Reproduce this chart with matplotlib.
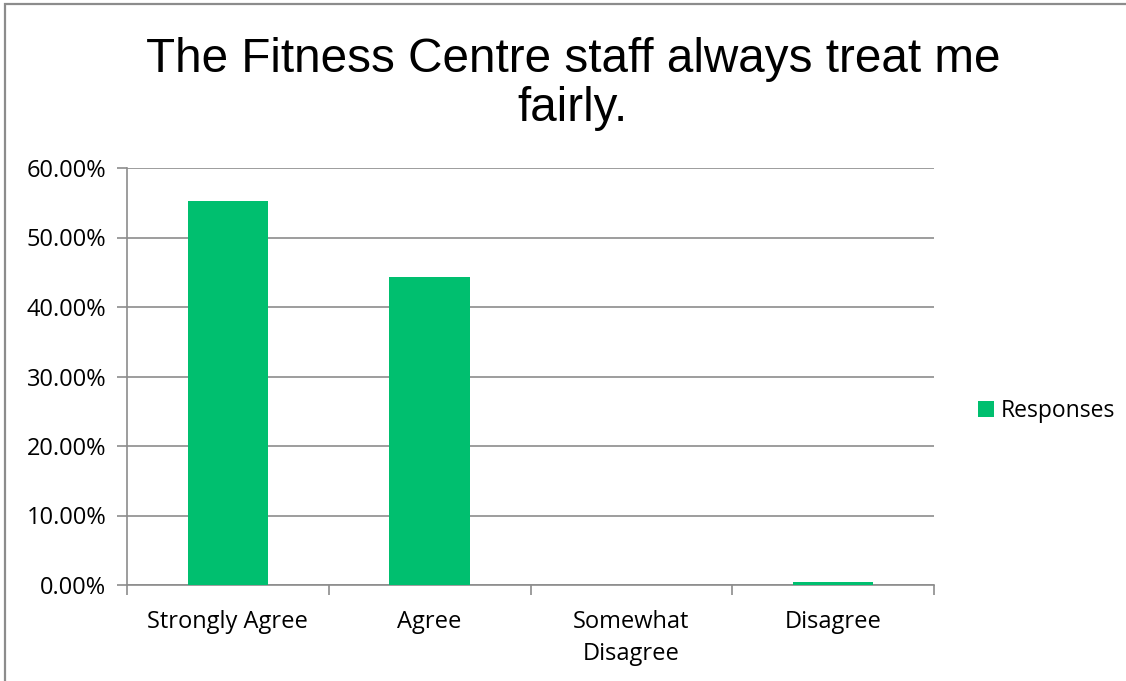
import matplotlib
matplotlib.use("Agg")
import matplotlib.pyplot as plt
from matplotlib.patches import Rectangle
from matplotlib.ticker import FuncFormatter, MultipleLocator

categories = ["Strongly Agree", "Agree", "Somewhat\nDisagree", "Disagree"]
responses = [55.3, 44.3, 0.0, 0.4]
series_name = "Responses"
title_lines = ["The Fitness Centre staff always treat me", "fairly."]

W, H = 1126, 681
fig = plt.figure(figsize=(W / 100, H / 100), dpi=100)

# outer chart frame
fig.patches.append(Rectangle((5 / W, -0.05), 1.1, (H - 4) / H + 0.05,
                             transform=fig.transFigure, fill=False,
                             edgecolor="#8c8c8c", linewidth=1.6))

ax = fig.add_axes([127 / W, 1 - 585 / H, (934 - 127) / W, (585 - 168) / H])

bar_color = "#00BF6F"
x = list(range(len(categories)))
ax.bar(x, responses, width=0.4, color=bar_color, label=series_name, zorder=3)

ax.set_xlim(-0.5, len(categories) - 0.5)
ax.set_ylim(0, 60)
ax.yaxis.set_major_locator(MultipleLocator(10))
ax.yaxis.set_major_formatter(FuncFormatter(lambda v, p: f"{v:.2f}%"))
ax.grid(axis="y", color="#8c8c8c", linewidth=1.2, zorder=0)
ax.set_axisbelow(True)

for s in ["top", "right"]:
    ax.spines[s].set_visible(False)
for s in ["left", "bottom"]:
    ax.spines[s].set_color("#8c8c8c")
    ax.spines[s].set_linewidth(1.2)

font = "Open Sans"
fs = 17
ax.set_xticks(x)
ax.set_xticklabels(categories, fontsize=fs, family=font, linespacing=1.45)
ax.set_xticks([i - 0.5 for i in range(len(categories) + 1)], minor=True)
ax.tick_params(axis="x", which="major", length=0, pad=18)
ax.tick_params(axis="x", which="minor", length=7, color="#8c8c8c", width=1.2)
ax.tick_params(axis="y", length=7, color="#8c8c8c", width=1.2, pad=8)
for lbl in ax.get_yticklabels():
    lbl.set_fontsize(fs)
    lbl.set_family(font)

for line, y in zip(title_lines, [72, 121]):
    fig.text(573 / W, 1 - y / H, line, ha="center", va="baseline",
             fontsize=34.3, family="Liberation Sans")

ax.legend(loc="center left", bbox_to_anchor=(957 / W, 1 - 411 / H),
          bbox_transform=fig.transFigure, frameon=False,
          prop={"family": font, "size": 16.5}, handlelength=0.7,
          handleheight=0.7, handletextpad=0.3)

fig.savefig("out.png", dpi=100)
